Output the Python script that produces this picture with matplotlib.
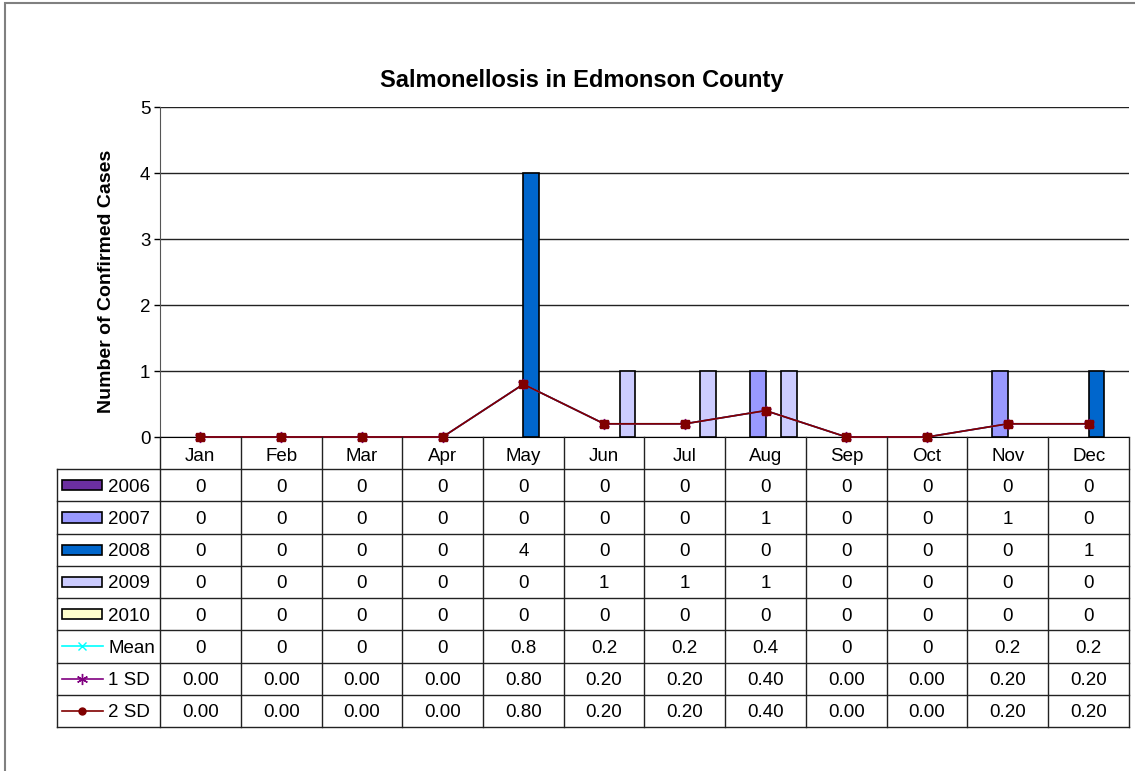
import numpy as np
import matplotlib.pyplot as plt
from matplotlib.patches import Rectangle
from matplotlib.lines import Line2D

plt.rcParams['font.family'] = ['Liberation Sans', 'DejaVu Sans']

months = ['Jan', 'Feb', 'Mar', 'Apr', 'May', 'Jun', 'Jul', 'Aug', 'Sep', 'Oct', 'Nov', 'Dec']
y2006 = [0, 0, 0, 0, 0, 0, 0, 0, 0, 0, 0, 0]
y2007 = [0, 0, 0, 0, 0, 0, 0, 1, 0, 0, 1, 0]
y2008 = [0, 0, 0, 0, 4, 0, 0, 0, 0, 0, 0, 1]
y2009 = [0, 0, 0, 0, 0, 1, 1, 1, 0, 0, 0, 0]
y2010 = [0, 0, 0, 0, 0, 0, 0, 0, 0, 0, 0, 0]
mean = [0, 0, 0, 0, 0.8, 0.2, 0.2, 0.4, 0, 0, 0.2, 0.2]
sd1 = [0, 0, 0, 0, 0.8, 0.2, 0.2, 0.4, 0, 0, 0.2, 0.2]
sd2 = [0, 0, 0, 0, 0.8, 0.2, 0.2, 0.4, 0, 0, 0.2, 0.2]

bar_series = [('2006', y2006, '#6B2FA0'), ('2007', y2007, '#9999FF'),
              ('2008', y2008, '#0066CC'), ('2009', y2009, '#CCCCFF'),
              ('2010', y2010, '#FFFFCC')]

W, H = 1135, 771
fig = plt.figure(figsize=(W / 100, H / 100), dpi=100)


def box(l, t, r, b):
    return [l / W, 1 - b / H, (r - l) / W, (b - t) / H]


# outer chart border (cropped at right/bottom)
fig.patches.append(Rectangle((5 / W, -0.1), 1.2, 1 - 3 / H + 0.1, transform=fig.transFigure,
                             fill=False, edgecolor='#808080', lw=1.5))

ax = fig.add_axes(box(160, 107, 1129, 437))
ax.set_xlim(0, 12)
ax.set_ylim(0, 5)
x = np.arange(12) + 0.5
bw = 15.5 / 80.75
for i, (name, vals, col) in enumerate(bar_series):
    edges = ['black' if v else 'none' for v in vals]
    ax.bar(x + (i - 2) * bw, vals, width=bw, align='edge', color=col,
           edgecolor=edges, linewidth=1.2, zorder=2)

ax.plot(x, mean, color='#00FFFF', marker='x', ms=6, lw=1.2, zorder=3, clip_on=False)
ax.plot(x, sd1, color='#800080', marker=(6, 2, 0), ms=8, lw=1.2, zorder=4, clip_on=False)
ax.plot(x, sd2, color='#800000', marker='s', ms=5.5, lw=1.2, zorder=5, clip_on=False)

ax.set_yticks(range(6))
ax.yaxis.grid(True, color='#222222', lw=1)
ax.set_axisbelow(True)
ax.set_xticks([])
ax.tick_params(axis='y', length=4, width=1, labelsize=13.5, pad=3, colors='black')
for s in ['top', 'right']:
    ax.spines[s].set_visible(False)
ax.spines['left'].set_color('#555555')
ax.spines['bottom'].set_color('black')

fig.text(582 / W, 1 - 81 / H, 'Salmonellosis in Edmonson County', ha='center', va='center',
         fontsize=17, fontweight='bold')
fig.text(107 / W, 1 - 281 / H, 'Number of Confirmed Cases', ha='center', va='center',
         rotation=90, fontsize=14, fontweight='bold')

# data table below the axis
tax = fig.add_axes(box(57, 437, 1129, 727))
left = (57 - 160) / 80.75
tax.set_xlim(left, 12)
tax.set_ylim(9, 0)
tax.axis('off')


def px(xp):
    return (xp - 160) / 80.75


lc = '#222222'
for r in range(1, 10):
    tax.plot([left, 12], [r, r], color=lc, lw=1, clip_on=False)
tax.plot([left, left], [1, 9], color=lc, lw=1, clip_on=False)
for c in range(0, 13):
    tax.plot([c, c], [0, 9], color=lc, lw=1, clip_on=False)

for j, m in enumerate(months):
    tax.text(j + 0.5, 0.6, m, ha='center', va='center', fontsize=13.5)

for r, (name, vals, col) in enumerate(bar_series):
    yy = r + 1.5
    tax.add_patch(Rectangle((px(62), yy - 0.16), px(102) - px(62), 0.32,
                            facecolor=col, edgecolor='black', lw=1.2))
    tax.text(px(108), yy + 0.06, name, ha='left', va='center', fontsize=13.5)
    for j, v in enumerate(vals):
        tax.text(j + 0.5, yy + 0.06, f'{v:g}', ha='center', va='center', fontsize=13.5)

line_rows = [('Mean', mean, '#00FFFF', 'x', 6, '{:g}'),
             ('1 SD', sd1, '#800080', (6, 2, 0), 8, '{:.2f}'),
             ('2 SD', sd2, '#800000', 'o', 5, '{:.2f}')]
for k, (name, vals, col, mk, ms, fmt) in enumerate(line_rows):
    yy = k + 6.5
    tax.add_line(Line2D([px(62), px(103)], [yy, yy], color=col, lw=1.2))
    tax.add_line(Line2D([px(82)], [yy], color=col, marker=mk, ms=ms))
    tax.text(px(108), yy + 0.06, name, ha='left', va='center', fontsize=13.5)
    for j, v in enumerate(vals):
        tax.text(j + 0.5, yy + 0.06, fmt.format(v), ha='center', va='center', fontsize=13.5)

fig.savefig('out.png', dpi=100)
